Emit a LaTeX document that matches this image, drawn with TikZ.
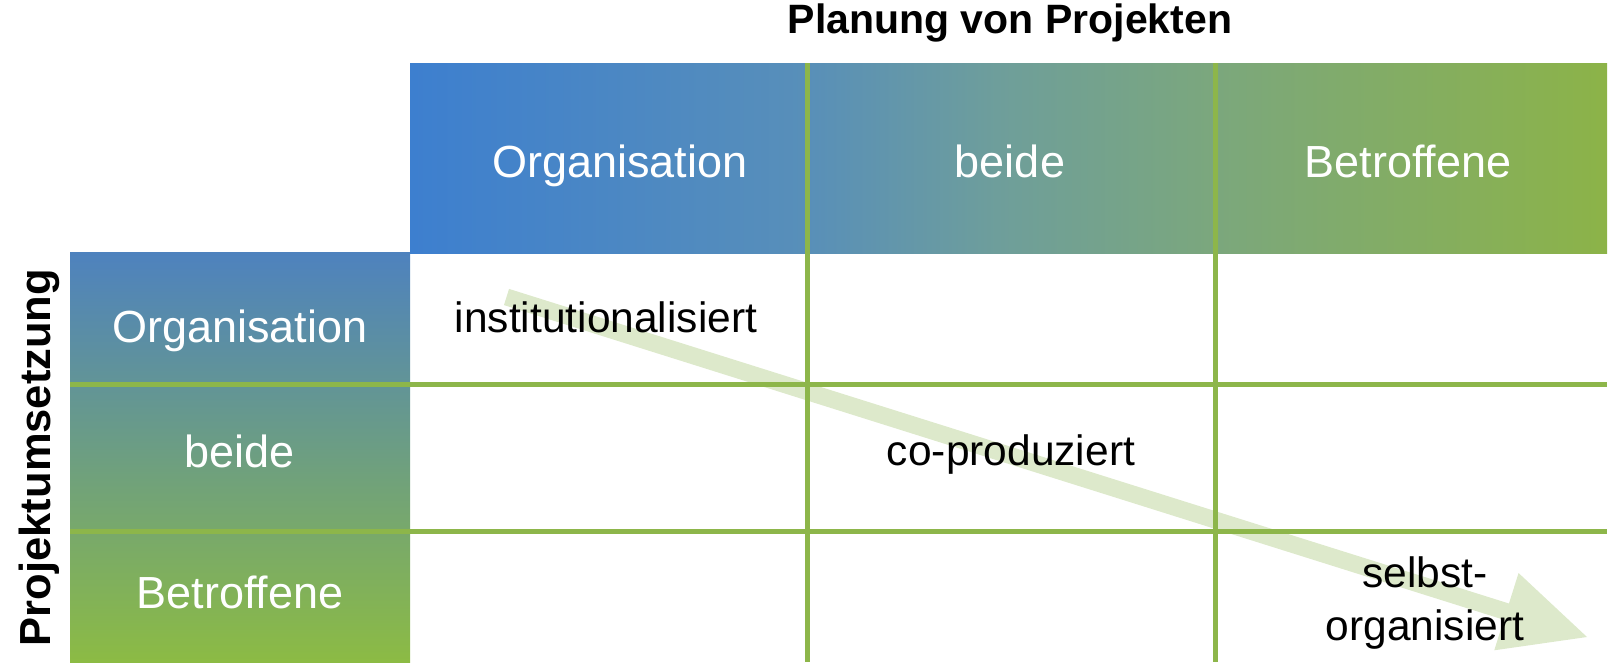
\documentclass[tikz,border=0pt]{standalone}
\usepackage{fontspec}
\setmainfont{Liberation Sans}
\definecolor{hblue}{RGB}{61,127,207}
\definecolor{hmidA}{RGB}{88,143,185}
\definecolor{hmidB}{RGB}{110,158,155}
\definecolor{hmidC}{RGB}{123,167,125}
\definecolor{hgreen}{RGB}{140,179,72}
\definecolor{vblue}{RGB}{78,130,190}
\definecolor{vgreen}{RGB}{140,187,68}
\definecolor{gridgreen}{RGB}{141,182,74}
\definecolor{arrowgreen}{RGB}{221,233,203}
\pgfdeclarehorizontalshading{hdrshade}{100bp}{color(0bp)=(hblue); color(25bp)=(hblue); color(41.5bp)=(hmidA); color(49.5bp)=(hmidB); color(58.5bp)=(hmidC); color(75bp)=(hgreen); color(100bp)=(hgreen)}
\tikzset{
  hdr/.style={font=\fontsize{45}{54}\selectfont, text=white, anchor=base, inner sep=0pt},
  celltext/.style={font=\fontsize{42.5}{53}\selectfont, text=black, anchor=base, inner sep=0pt, align=center},
  ttl/.style={font=\bfseries\fontsize{41}{49}\selectfont, text=black, anchor=base, inner sep=0pt},
  gridline/.style={draw=gridgreen, line width=5pt},
  bigarrow/.style={fill=arrowgreen, draw=none}
}
\begin{document}
\begin{tikzpicture}[x=1pt,y=-1pt]
\useasboundingbox (0,0) rectangle (1610,662);
% headers
\shade[shading=hdrshade] (410,63) rectangle (1607,253);
\shade[top color=vblue, bottom color=vgreen] (70,252) rectangle (410,662);
% arrow
\coordinate (tailA) at (509.05,288.9);
\coordinate (tailB) at (503.95,305.1);
\coordinate (shB) at (1503.85,619.76);
\coordinate (hdB) at (1494.25,650.3);
\coordinate (tip) at (1587,637);
\coordinate (hdA) at (1518.55,573.0);
\coordinate (shA) at (1508.95,603.5);
\fill[bigarrow] (tailA) -- (shA) -- (hdA) -- (tip) -- (hdB) -- (shB) -- (tailB) -- cycle;
% grid lines
\coordinate (v1t) at (807,63);  \coordinate (v1b) at (807,662);
\coordinate (v2t) at (1215,63); \coordinate (v2b) at (1215,662);
\coordinate (h1l) at (70,384);  \coordinate (h1r) at (1607,384);
\coordinate (h2l) at (70,531);  \coordinate (h2r) at (1607,531);
\draw[gridline] (v1t) -- (v1b);
\draw[gridline] (v2t) -- (v2b);
\draw[gridline] (h1l) -- (h1r);
\draw[gridline] (h2l) -- (h2r);
% titles
\node[ttl] (title) at (1010,33) {Planung von Projekten};
\node[ttl, font=\bfseries\fontsize{43.5}{50}\selectfont, rotate=90] (vtitle) at (50,457.5) {Projektumsetzung};
% top header texts
\node[hdr] (c1) at (620,177) {Organisation};
\node[hdr] (c2) at (1010,177) {beide};
\node[hdr] (c3) at (1408,177) {Betroffene};
% left header texts
\node[hdr] (r1) at (240,342) {Organisation};
\node[hdr] (r2) at (240,467) {beide};
\node[hdr] (r3) at (240,608) {Betroffene};
% cell texts
\node[celltext] (inst) at (606,332) {institutionalisiert};
\node[celltext] (cop) at (1011,465) {co-produziert};
\node[celltext] (selbst) at (1425,640) {selbst-\\organisiert};
\end{tikzpicture}
\end{document}
